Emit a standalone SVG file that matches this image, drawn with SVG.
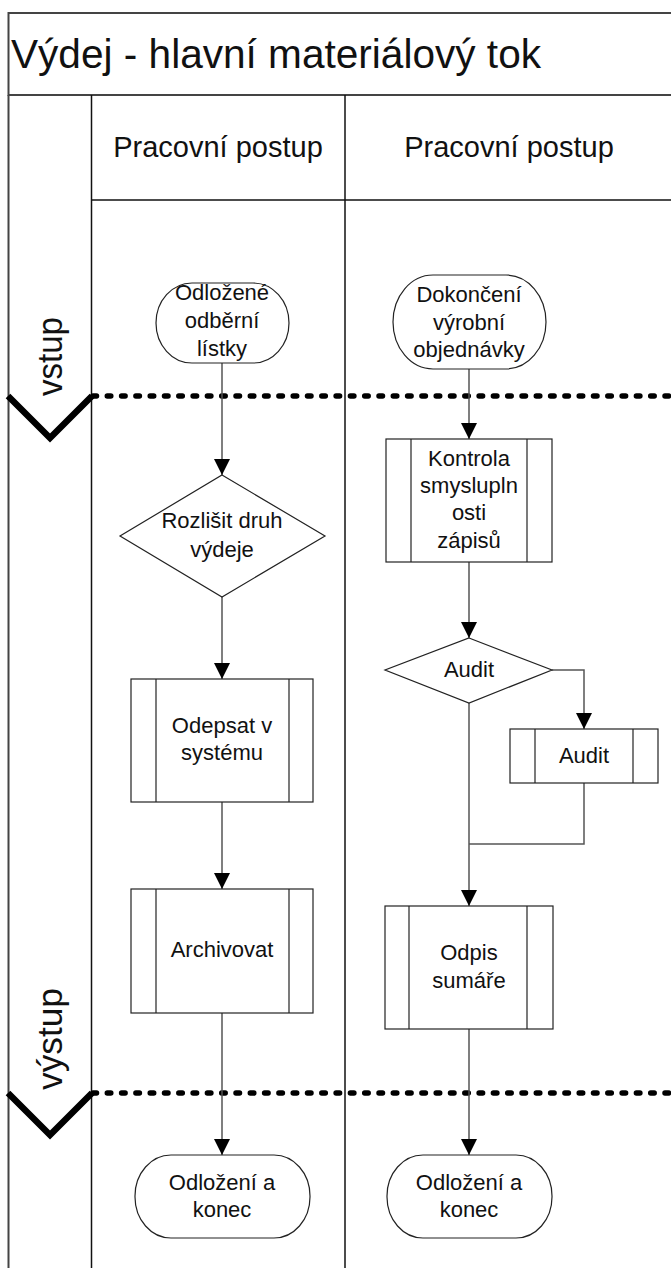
<svg xmlns="http://www.w3.org/2000/svg" width="671" height="1273" viewBox="0 0 671 1273">
  <defs>
    <marker id="arrow" viewBox="0 0 16 16" refX="16" refY="8" markerWidth="16" markerHeight="16" markerUnits="userSpaceOnUse" orient="auto">
      <path d="M0,0 L16,8 L0,16 Z" fill="#000"/>
    </marker>
    <style>
      text { font-family: "Liberation Sans", Arial, sans-serif; fill: #111; }
      .title { font-size: 40px; }
      .head { font-size: 29px; text-anchor: middle; }
      .phase { font-size: 35px; }
      .lbl { font-size: 22px; text-anchor: middle; }
      .frame { fill: none; stroke: #444; stroke-width: 2; }
      .lane { fill: none; stroke: #111; stroke-width: 1.5; }
      .sep { fill: none; stroke: #000; stroke-width: 5.5; stroke-linecap: round; stroke-dasharray: 3.5 10.8; }
      .chev { fill: none; stroke: #000; stroke-width: 6.5; stroke-linejoin: miter; }
      .shape { fill: #fff; stroke: #222; stroke-width: 1.2; }
      .conn { fill: none; stroke: #555; stroke-width: 1.5; }
      .conn-a { fill: none; stroke: #555; stroke-width: 1.5; marker-end: url(#arrow); }
    </style>
  </defs>

  <!-- pool frame, title band and lane headers -->
  <g id="pool">
    <rect class="frame" x="8.5" y="13" width="700" height="82"/>
    <line class="frame" x1="8.5" y1="95" x2="8.5" y2="1268"/>
    <line class="lane" x1="91.5" y1="95" x2="91.5" y2="1268"/>
    <line class="lane" x1="345" y1="95" x2="345" y2="1268"/>
    <line class="lane" x1="91.5" y1="200" x2="671" y2="200"/>
    <text class="title" x="11" y="68" textLength="530" lengthAdjust="spacingAndGlyphs">Výdej - hlavní materiálový tok</text>
    <text class="head" x="218" y="157">Pracovní postup</text>
    <text class="head" x="509" y="157">Pracovní postup</text>
  </g>

  <!-- phase markers -->
  <g id="phase-vstup">
    <text class="phase" transform="translate(62,396) rotate(-90)" textLength="79" lengthAdjust="spacingAndGlyphs">vstup</text>
    <polyline class="chev" points="8,396 50,438 92,396"/>
    <line class="sep" x1="93" y1="396" x2="680" y2="396"/>
  </g>
  <g id="phase-vystup">
    <text class="phase" transform="translate(62,1090) rotate(-90)" textLength="102" lengthAdjust="spacingAndGlyphs">výstup</text>
    <polyline class="chev" points="8,1093 50,1135 92,1093"/>
    <line class="sep" x1="93" y1="1093" x2="680" y2="1093"/>
  </g>

  <!-- connectors -->
  <g id="connectors">
    <line class="conn-a" x1="222" y1="363" x2="222" y2="475"/>
    <line class="conn-a" x1="222" y1="597" x2="222" y2="679"/>
    <line class="conn-a" x1="222" y1="802" x2="222" y2="889"/>
    <line class="conn-a" x1="222" y1="1013" x2="222" y2="1155"/>
    <line class="conn-a" x1="469" y1="369" x2="469" y2="439"/>
    <line class="conn-a" x1="469" y1="562" x2="469" y2="638"/>
    <polyline class="conn-a" points="552,670 584,670 584,729"/>
    <polyline class="conn" points="584,783 584,844 469,844"/>
    <line class="conn-a" x1="469" y1="703" x2="469" y2="906"/>
    <line class="conn-a" x1="469" y1="1029" x2="469" y2="1155"/>
  </g>

  <!-- lane 1 -->
  <g id="odlozene-listky">
    <rect class="shape" x="156" y="283" width="133" height="80" rx="36" ry="40"/>
    <text class="lbl" x="222" y="300">Odložené</text>
    <text class="lbl" x="222" y="328">odběrní</text>
    <text class="lbl" x="222" y="356">lístky</text>
  </g>
  <g id="rozlisit-druh">
    <polygon class="shape" points="222,475 325,536 222,597 120,536"/>
    <text class="lbl" x="222" y="528">Rozlišit druh</text>
    <text class="lbl" x="222" y="557">výdeje</text>
  </g>
  <g id="odepsat">
    <rect class="shape" x="131" y="679" width="182" height="123"/>
    <line class="shape" x1="156" y1="679" x2="156" y2="802"/>
    <line class="shape" x1="289" y1="679" x2="289" y2="802"/>
    <text class="lbl" x="222" y="733">Odepsat v</text>
    <text class="lbl" x="222" y="760">systému</text>
  </g>
  <g id="archivovat">
    <rect class="shape" x="131" y="889" width="182" height="124"/>
    <line class="shape" x1="156" y1="889" x2="156" y2="1013"/>
    <line class="shape" x1="289" y1="889" x2="289" y2="1013"/>
    <text class="lbl" x="222" y="957">Archivovat</text>
  </g>
  <g id="konec-1">
    <rect class="shape" x="135" y="1155" width="175" height="83" rx="36" ry="41"/>
    <text class="lbl" x="222" y="1190">Odložení a</text>
    <text class="lbl" x="222" y="1217">konec</text>
  </g>

  <!-- lane 2 -->
  <g id="dokonceni">
    <rect class="shape" x="393" y="275" width="153" height="94" rx="40" ry="47"/>
    <text class="lbl" x="469" y="302">Dokončení</text>
    <text class="lbl" x="469" y="330">výrobní</text>
    <text class="lbl" x="469" y="357">objednávky</text>
  </g>
  <g id="kontrola">
    <rect class="shape" x="386" y="439" width="166" height="123"/>
    <line class="shape" x1="411" y1="439" x2="411" y2="562"/>
    <line class="shape" x1="527" y1="439" x2="527" y2="562"/>
    <text class="lbl" x="469" y="466">Kontrola</text>
    <text class="lbl" x="469" y="493">smyslupln</text>
    <text class="lbl" x="469" y="520">osti</text>
    <text class="lbl" x="469" y="548">zápisů</text>
  </g>
  <g id="audit-rozhodnuti">
    <polygon class="shape" points="469,638 552,670 469,703 385,670"/>
    <text class="lbl" x="469" y="677">Audit</text>
  </g>
  <g id="audit">
    <rect class="shape" x="510" y="729" width="148" height="54"/>
    <line class="shape" x1="535" y1="729" x2="535" y2="783"/>
    <line class="shape" x1="633" y1="729" x2="633" y2="783"/>
    <text class="lbl" x="584" y="763">Audit</text>
  </g>
  <g id="odpis-sumare">
    <rect class="shape" x="385" y="906" width="168" height="123"/>
    <line class="shape" x1="409" y1="906" x2="409" y2="1029"/>
    <line class="shape" x1="527" y1="906" x2="527" y2="1029"/>
    <text class="lbl" x="469" y="960">Odpis</text>
    <text class="lbl" x="469" y="988">sumáře</text>
  </g>
  <g id="konec-2">
    <rect class="shape" x="387" y="1155" width="165" height="83" rx="36" ry="41"/>
    <text class="lbl" x="469" y="1190">Odložení a</text>
    <text class="lbl" x="469" y="1217">konec</text>
  </g>
</svg>
